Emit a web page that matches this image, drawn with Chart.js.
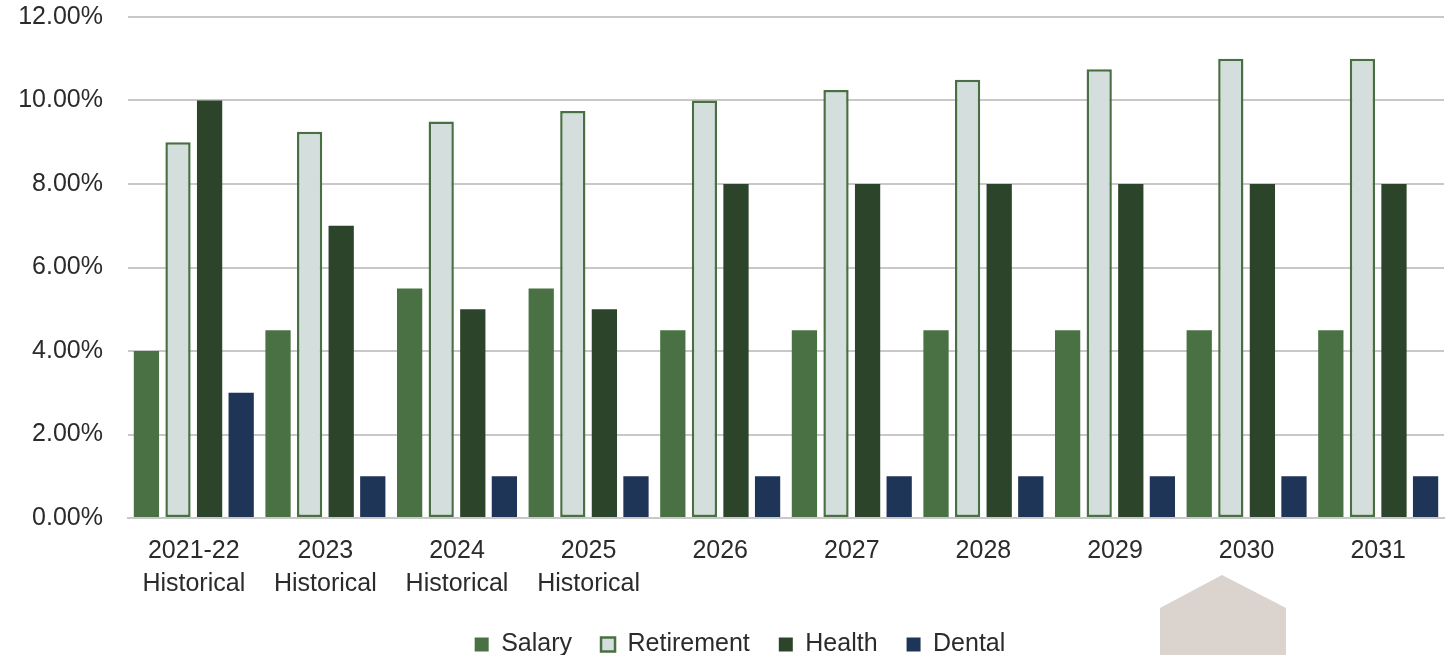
<!DOCTYPE html>
<html>
<head>
<meta charset="utf-8">
<script src="https://cdn.jsdelivr.net/npm/chart.js@4.4.1/dist/chart.umd.min.js"></script>
<style>
  html, body { margin: 0; padding: 0; background: #fff; overflow: hidden; }
  #wrap { width: 1447px; height: 667px; }
</style>
</head>
<body>
<div id="wrap"><canvas id="benefitChart"></canvas></div>
<script>
const years = [
    ['2021-22', 'Historical'], ['2023', 'Historical'], ['2024', 'Historical'], ['2025', 'Historical'],
    '2026', '2027', '2028', '2029', '2030', '2031'
];
const salary = [4.0, 4.5, 5.5, 5.5, 4.5, 4.5, 4.5, 4.5, 4.5, 4.5];
const retirement = [9.0, 9.25, 9.5, 9.75, 10.0, 10.25, 10.5, 10.75, 11.0, 11.0];
const health = [10.0, 7.0, 5.0, 5.0, 8.0, 8.0, 8.0, 8.0, 8.0, 8.0];
const dental = [3.0, 1.0, 1.0, 1.0, 1.0, 1.0, 1.0, 1.0, 1.0, 1.0];

const textColor = '#2b2b2b';
const fontFamily = '"Liberation Sans", Arial, sans-serif';

// little house-shaped marker under the 2030 column
const housePlugin = {
    id: 'house',
    afterLayout(chart) {
        // nudge the legend a bit to the right
        chart.legend.left += 18;
        chart.legend.right += 18;
    },
    afterDraw(chart) {
        const ctx = chart.ctx;
        ctx.save();
        ctx.fillStyle = '#dbd3cd';
        ctx.beginPath();
        ctx.moveTo(1160, 608);
        ctx.lineTo(1222, 575);
        ctx.lineTo(1286, 608);
        ctx.lineTo(1286, chart.height);
        ctx.lineTo(1160, chart.height);
        ctx.closePath();
        ctx.fill();
        ctx.restore();
    }
};

const ctx = document.getElementById('benefitChart').getContext('2d');
const benefitChart = new Chart(ctx, {
    type: 'bar',
    data: {
        labels: years,
        datasets: [
            { label: 'Salary', data: salary, backgroundColor: '#4a7144', borderWidth: 0 },
            { label: 'Retirement', data: retirement, backgroundColor: '#d3dedd', borderColor: '#487042', borderWidth: 2.5, borderSkipped: false },
            { label: 'Health', data: health, backgroundColor: '#2c4429', borderWidth: 0 },
            { label: 'Dental', data: dental, backgroundColor: '#1f3558', borderWidth: 0 }
        ]
    },
    options: {
        responsive: true,
        maintainAspectRatio: false,
        animation: false,
        categoryPercentage: 0.96,
        barPercentage: 0.8,
        layout: { padding: { top: 17, right: 3, left: 0, bottom: 0 } },
        plugins: {
            legend: {
                position: 'bottom',
                labels: {
                    color: textColor,
                    font: { family: fontFamily, size: 25 },
                    boxWidth: 14,
                    boxHeight: 14,
                    padding: 29
                }
            },
            tooltip: { enabled: false }
        },
        scales: {
            x: {
                grid: { display: false, drawTicks: false },
                border: { color: '#c8c8c8', width: 2 },
                ticks: {
                    color: textColor,
                    font: { family: fontFamily, size: 25, lineHeight: 1.32 },
                    padding: 17,
                    maxRotation: 0,
                    autoSkip: false
                },
                afterFit: (scale) => { scale.height = 85; }
            },
            y: {
                min: 0,
                max: 12,
                grid: { color: '#c8c8c8', lineWidth: 2, drawTicks: false },
                border: { display: false },
                ticks: {
                    stepSize: 2,
                    color: textColor,
                    font: { family: fontFamily, size: 25 },
                    padding: 25,
                    callback: (v) => v.toFixed(2) + '%'
                },
                afterFit: (scale) => {
                    scale.width = 128;
                    scale.paddingTop = 0;
                    scale.paddingBottom = 0;
                }
            }
        }
    },
    plugins: [housePlugin]
});
</script>
</body>
</html>
